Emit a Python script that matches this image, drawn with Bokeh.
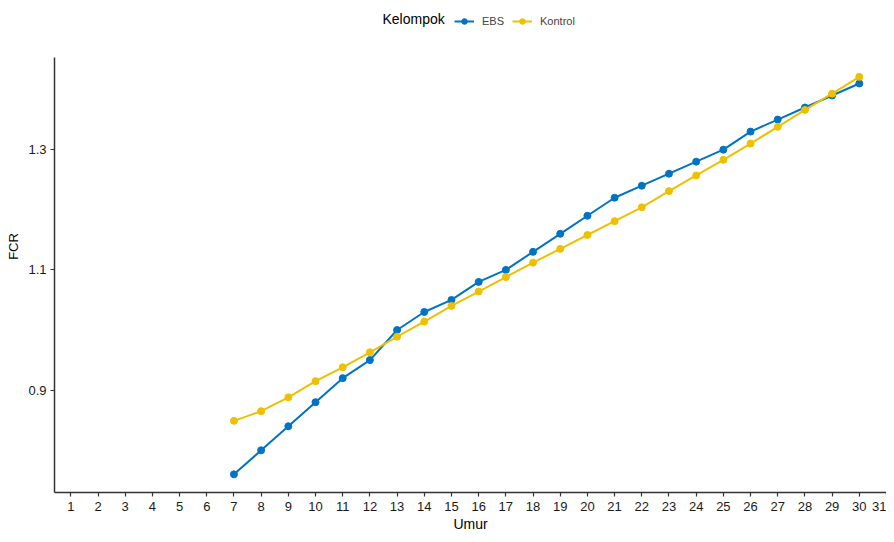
from bokeh.plotting import figure
from bokeh.models import (ColumnDataSource, FixedTicker, Range1d, Legend, LegendItem, Label)
from bokeh.embed import file_html
from bokeh.resources import INLINE

umur = list(range(7, 31))
ebs = [0.76, 0.80, 0.84, 0.88, 0.92, 0.95, 1.00, 1.03, 1.05, 1.08, 1.10, 1.13,
       1.16, 1.19, 1.22, 1.24, 1.26, 1.28, 1.30, 1.33, 1.35, 1.37, 1.39, 1.41]
kontrol = [0.849, 0.865, 0.888, 0.915, 0.938, 0.963, 0.989, 1.014, 1.040, 1.064,
           1.088, 1.112, 1.135, 1.158, 1.181, 1.204, 1.231, 1.257, 1.283, 1.310,
           1.338, 1.366, 1.393, 1.421]
x_ticks = list(range(1, 32))
y_ticks = [0.9, 1.1, 1.3]
groups = ["EBS", "Kontrol"]
colors = ["#0073C2", "#EFC000"]

FONT = "Liberation Sans"
Y_LO, Y_HI = 0.7298, 1.4537      # extent of the drawn y axis
Y_TOP = 1.548                    # frame extends upward to hold the legend

p = figure(width=886, height=534, output_backend="svg", toolbar_location=None,
           x_range=Range1d(0.4, 31.0), y_range=Range1d(Y_LO, Y_TOP),
           min_border_left=54, min_border_right=0, min_border_top=0, min_border_bottom=41)
p.outline_line_color = None
p.xgrid.visible = False
p.ygrid.visible = False
p.background_fill_color = "white"
p.border_fill_color = "white"

renderers = []
for name, ys, c in zip(groups, [ebs, kontrol], colors):
    src = ColumnDataSource(dict(x=umur, y=ys))
    l = p.line("x", "y", source=src, line_color=c, line_width=2)
    s = p.scatter("x", "y", source=src, size=7, fill_color=c, line_color=c)
    renderers.append([l, s])

for ax in (p.xaxis[0], p.yaxis[0]):
    ax.axis_line_color = "#333333"
    ax.axis_line_width = 1.5
    ax.major_tick_line_color = "#333333"
    ax.major_tick_line_width = 1.2
    ax.major_tick_in = 0
    ax.major_tick_out = 4
    ax.minor_tick_line_color = None
    ax.major_label_text_font = FONT
    ax.major_label_text_font_size = "13px"
    ax.major_label_text_color = "#1a1a1a"
    ax.axis_label_text_font = FONT
    ax.axis_label_text_font_style = "normal"
    ax.axis_label_text_color = "black"

p.yaxis.bounds = (Y_LO, Y_HI)
p.xaxis.ticker = FixedTicker(ticks=x_ticks)
p.yaxis.ticker = FixedTicker(ticks=y_ticks)
p.xaxis.axis_label = "Umur"
p.yaxis.axis_label = "FCR"
p.xaxis.axis_label_text_font_size = "14px"
p.yaxis.axis_label_text_font_size = "13px"
p.xaxis.axis_label_standoff = 2
p.yaxis.axis_label_standoff = 4
p.xaxis.major_label_standoff = 5
p.yaxis.major_label_standoff = 4

legend = Legend(items=[LegendItem(label=g, renderers=r) for g, r in zip(groups, renderers)],
                orientation="horizontal", location=(400, 464),
                padding=0, margin=0, spacing=8, glyph_width=20, glyph_height=14,
                label_standoff=8, label_height=14, border_line_color=None,
                background_fill_alpha=0,
                label_text_font=FONT, label_text_font_size="11px")
p.add_layout(legend, "center")

title = Label(x=328, y=474, x_units="screen", y_units="screen", text="Kelompok",
              text_font=FONT, text_font_size="14px", text_baseline="middle",
              text_color="black")
p.add_layout(title)

open("out.html", "w").write(file_html(p, INLINE))
